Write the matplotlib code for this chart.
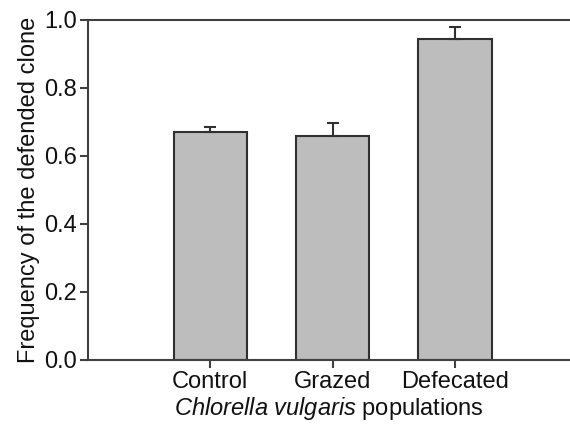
import matplotlib
matplotlib.use("Agg")
import matplotlib.pyplot as plt
import numpy as np

categories = ["Control", "Grazed", "Defecated"]
values = [0.670, 0.659, 0.944]
errors = [0.014, 0.039, 0.035]
yticks = [0.0, 0.2, 0.4, 0.6, 0.8, 1.0]

plt.rcParams['font.family'] = ['Liberation Sans', 'DejaVu Sans']
plt.rcParams['mathtext.fontset'] = 'custom'
plt.rcParams['mathtext.rm'] = 'Liberation Sans'
plt.rcParams['mathtext.it'] = 'Liberation Sans:italic'

fig = plt.figure(figsize=(5.70, 4.24), dpi=100)
ax = fig.add_axes([88/570, 64/424, 1 - 88/570, 340/424])

x = np.arange(1, len(categories) + 1)
edge = '#303030'
ax.bar(x, values, width=0.6, color='#bdbdbd', edgecolor=edge, linewidth=1.5, zorder=2)
ax.errorbar(x, values, yerr=[np.zeros(len(errors)), errors], fmt='none',
            ecolor=edge, elinewidth=1.5, capsize=4.5, capthick=1.5, zorder=3)

ax.set_xlim(0, 3.94)
ax.set_ylim(0, 1.0)
ax.set_xticks(x)
ax.set_xticklabels(categories)
ax.set_yticks(yticks)
ax.set_yticklabels([f"{t:.1f}" for t in yticks])

for s in ['left', 'top', 'bottom']:
    ax.spines[s].set_color('#404040')
    ax.spines[s].set_linewidth(1.5)
ax.spines['right'].set_visible(False)

ax.tick_params(axis='both', direction='out', length=6, width=1.5, color='#404040',
               labelsize=17, pad=2, labelcolor='#111111')

ax.set_ylabel("Frequency of the defended clone", fontsize=17, color='#111111', labelpad=3)
ax.set_xlabel(r"$\it{Chlorella\ vulgaris}$ populations", fontsize=17, color='#111111', labelpad=1)

fig.savefig("out.png", dpi=100)
